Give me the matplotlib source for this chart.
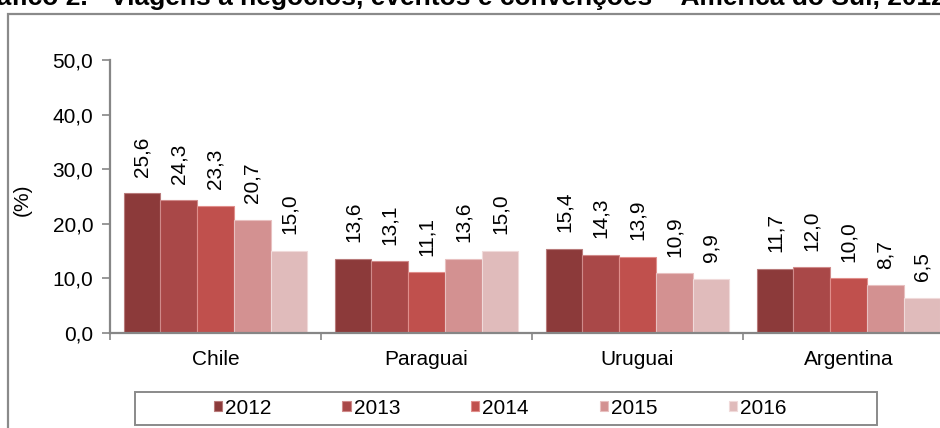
import numpy as np
import matplotlib
matplotlib.use('Agg')
import matplotlib.pyplot as plt
from matplotlib.patches import Rectangle

plt.rcParams['font.family'] = ['Liberation Sans', 'DejaVu Sans']

countries = ['Chile', 'Paraguai', 'Uruguai', 'Argentina']
years = ['2012', '2013', '2014', '2015', '2016']
v2012 = [25.6, 13.6, 15.4, 11.7]
v2013 = [24.3, 13.1, 14.3, 12.0]
v2014 = [23.3, 11.1, 13.9, 10.0]
v2015 = [20.7, 13.6, 10.9, 8.7]
v2016 = [15.0, 15.0, 9.9, 6.5]
yticks = [0, 10, 20, 30, 40, 50]

colors = ['#8c3a3a', '#a94848', '#c0504d', '#d39191', '#e0bbbb']
edges = ['#b87a7a', '#cf8a8a', '#e08e8b', '#e8c0c0', '#f0dada']
grey = '#868686'

W, H = 940, 428
fig = plt.figure(figsize=(W / 100, H / 100), dpi=100)

# outer frame (runs off the right and bottom of the picture)
fig.patches.append(Rectangle((8 / W, -0.05), 1.0, (H - 14) / H + 0.05,
                             transform=fig.transFigure, fill=False,
                             edgecolor='#8a8a8a', lw=1.6, zorder=0))

# title, cut off by the top edge as in the source
fig.text(88 / W, 1 - 5 / H, 'Gráfico 2.', ha='right', va='baseline',
         fontsize=19, fontweight='bold')
fig.text(110 / W, 1 - 5 / H,
         'Viagens a negócios, eventos e convenções – América do Sul, 2012-2016',
         ha='left', va='baseline', fontsize=19, fontweight='bold')

ax = fig.add_axes([110 / W, (H - 333) / H, 844 / W, 273 / H])
x = np.arange(len(countries))
bw = 0.174
series = [v2012, v2013, v2014, v2015, v2016]
for i, vals in enumerate(series):
    pos = x + (i - 2) * bw
    ax.bar(pos, vals, bw, color=colors[i], edgecolor=edges[i],
           linewidth=0.8, label=years[i])
    for p, v in zip(pos, vals):
        ax.annotate(f'{v:.1f}'.replace('.', ','), (p, v), xytext=(0, 12),
                    textcoords='offset points', rotation=90, ha='center',
                    va='bottom', fontsize=15)

ax.set_xlim(-0.5, 3.5)
ax.set_ylim(0, 50)
ax.set_yticks(yticks)
ax.set_yticklabels([f'{t:.1f}'.replace('.', ',') for t in yticks], fontsize=15)
ax.set_xticks(np.arange(-0.5, 3.6, 1))
ax.set_xticklabels([])
ax.set_xticks(x, minor=True)
ax.set_xticklabels(countries, minor=True, fontsize=15)
ax.tick_params(axis='x', which='minor', length=0, pad=12)
ax.tick_params(axis='x', which='major', length=5, color=grey, width=1.2)
ax.tick_params(axis='y', length=6, color=grey, width=1.2, pad=6)
for s in ['top', 'right']:
    ax.spines[s].set_visible(False)
for s in ['left', 'bottom']:
    ax.spines[s].set_color(grey)
    ax.spines[s].set_linewidth(1.6)

fig.text(22 / W, 1 - 200 / H, '(%)', rotation=90, ha='center', va='center',
         fontsize=15)

# legend box
fig.patches.append(Rectangle((135 / W, 3 / H), 742 / W, 33 / H,
                             transform=fig.transFigure, fill=False,
                             edgecolor='#8a8a8a', lw=1.4))
leg = fig.legend(loc='center', ncol=5, bbox_to_anchor=(500 / W, 1 - 408 / H),
                 bbox_transform=fig.transFigure, fontsize=15,
                 handlelength=0.4, handleheight=0.4, handletextpad=0.15,
                 columnspacing=3.4, frameon=False, borderaxespad=0)

fig.savefig('out.png', dpi=100)
